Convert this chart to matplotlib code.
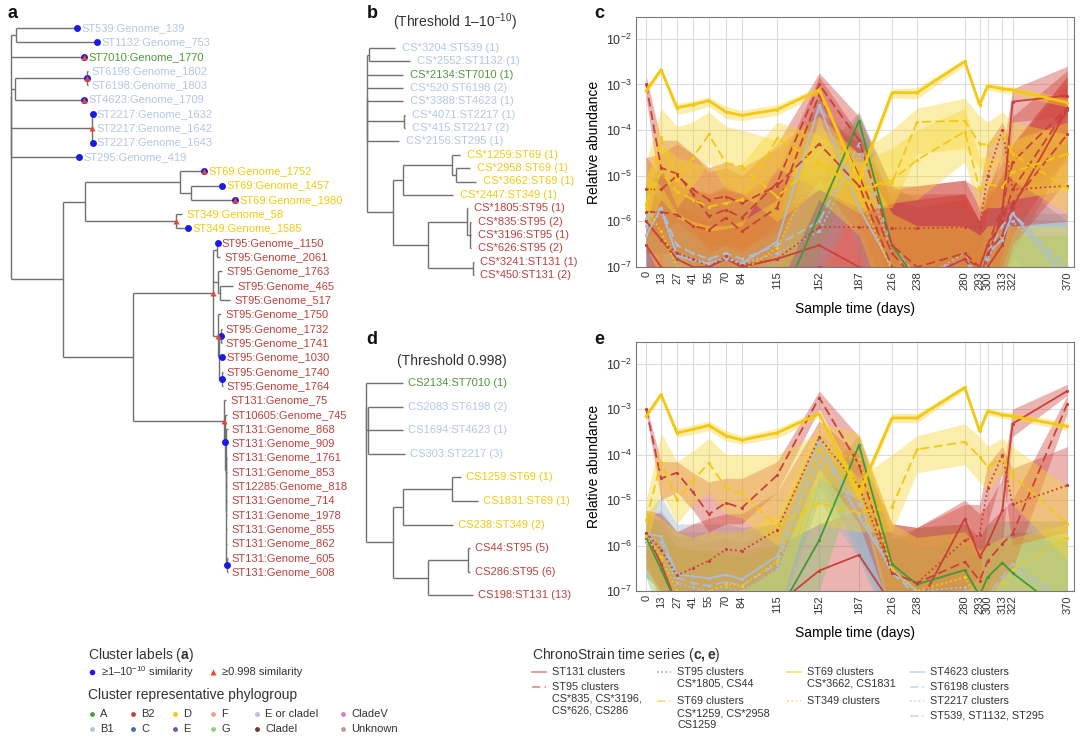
import matplotlib
matplotlib.use("Agg")
import matplotlib.pyplot as plt
from matplotlib.ticker import NullLocator
from matplotlib.transforms import ScaledTranslation

plt.rcParams['font.family'] = ['Liberation Sans', 'DejaVu Sans']
plt.rcParams['mathtext.fontset'] = 'custom'
plt.rcParams['mathtext.rm'] = 'Liberation Sans'
plt.rcParams['mathtext.bf'] = 'Liberation Sans:bold'
plt.rcParams['mathtext.it'] = 'Liberation Sans:italic'
plt.rcParams['text.color'] = '#333333'

# ------------------------------------------------------------------
# Datos
# ------------------------------------------------------------------
days = [0, 13, 27, 41, 55, 70, 84, 115, 152, 187, 216, 238, 280, 293, 300, 313, 322, 370]

phylogroup_of = {'ST539': 'B1', 'ST1132': 'B1', 'ST7010': 'A', 'ST6198': 'B1',
                 'ST4623': 'B1', 'ST2217': 'B1', 'ST295': 'B1', 'ST69': 'D',
                 'ST349': 'D', 'ST95': 'B2', 'ST131': 'B2', 'ST10605': 'B2',
                 'ST12285': 'B2'}
phylo_names = ['A', 'B2', 'D', 'F', 'E or cladeI', 'CladeV',
               'B1', 'C', 'E', 'G', 'CladeI', 'Unknown']
phylo_colors = {'A': '#4e9a3c', 'B2': '#c2403a', 'D': '#f2ca10', 'F': '#ef9f98',
                'E or cladeI': '#c6b8e2', 'CladeV': '#d77cc8', 'B1': '#b4c6e6',
                'C': '#3f72b4', 'E': '#7453b3', 'G': '#8fd07f', 'CladeI': '#6b3b2c',
                'Unknown': '#c09a98'}

# arbol a: nodo interno = [nombre, largo, hijos...], hoja = (etiqueta, largo)
tree_a = ['root', 0,
    ['lb', 0,
        ['n539', 5, ('ST539:Genome_139', 61), ('ST1132:Genome_753', 81)],
        ('ST7010:Genome_1770', 73),
        ['n6198_4623', 4,
            ['n6198', 72, ('ST6198:Genome_1802', 0.5), ('ST6198:Genome_1803', 0.5)],
            ('ST4623:Genome_1709', 69)],
        ['n2217', 81, ('ST2217:Genome_1632', 0.5), ('ST2217:Genome_1642', 0.5),
                      ('ST2217:Genome_1643', 0.5)],
        ('ST295:Genome_419', 68)],
    ['b', 52,
        ['c', 22,
            ['n69', 95, ('ST69:Genome_1752', 24),
                ['n69b', 11, ('ST69:Genome_1457', 31), ('ST69:Genome_1980', 44)]],
            ['n349', 91, ('ST349:Genome_58', 6), ('ST349:Genome_1585', 12)]],
        ['d', 70,
            ['n95', 80,
                ['n95x', 4, ('ST95:Genome_1150', 0.5), ('ST95:Genome_2061', 3)],
                ['n95c', 5, ('ST95:Genome_1763', 4),
                    ['n465', 2, ('ST95:Genome_465', 13), ('ST95:Genome_517', 10)]],
                ['n95b', 5, ('ST95:Genome_1750', 3),
                    ['n95d', 1,
                        ['n1732', 2, ('ST95:Genome_1732', 0.5), ('ST95:Genome_1741', 0.5)],
                        ('ST95:Genome_1030', 3),
                        ['n1740', 3, ('ST95:Genome_1740', 0.5), ('ST95:Genome_1764', 0.5)]]]],
            ['n131', 91, ('ST131:Genome_75', 2),
                ['n131a', 1, ('ST10605:Genome_745', 2),
                    ['n131b', 0.5, ('ST131:Genome_868', 2), ('ST131:Genome_909', 1.5),
                        ['n131c', 0.5, ('ST131:Genome_1761', 1), ('ST131:Genome_853', 1),
                            ('ST12285:Genome_818', 1), ('ST131:Genome_714', 1),
                            ('ST131:Genome_1978', 1), ('ST131:Genome_855', 1),
                            ('ST131:Genome_862', 1),
                            ['n605', 1, ('ST131:Genome_605', 0.5), ('ST131:Genome_608', 0.5)]]]]]]]]

blue_a = ['ST539:Genome_139', 'ST1132:Genome_753', 'ST7010:Genome_1770', 'n6198',
          'ST4623:Genome_1709', 'ST2217:Genome_1632', 'ST2217:Genome_1643',
          'ST295:Genome_419', 'ST69:Genome_1752', 'ST69:Genome_1457', 'ST69:Genome_1980',
          'ST349:Genome_1585', 'ST95:Genome_1150', 'n1732', 'ST95:Genome_1030',
          'n1740', 'n131a', 'n605']
red_a = ['ST7010:Genome_1770', 'n6198', 'ST4623:Genome_1709', 'n2217',
         'ST69:Genome_1752', 'ST69:Genome_1980', 'n349', 'n95', 'n95b', 'n131']

tree_b = ['root', 0,
    ['lb', 0,
        ['n1', 2, ('CS*3204:ST539 (1)', 26), ('CS*2552:ST1132 (1)', 41)],
        ('CS*2134:ST7010 (1)', 36),
        ('CS*520:ST6198 (2)', 36),
        ('CS*3388:ST4623 (1)', 36),
        ['n2217', 37, ('CS*4071:ST2217 (1)', 0.5), ('CS*415:ST2217 (2)', 0.5)],
        ('CS*2156:ST295 (1)', 32)],
    ['rest', 26,
        ['y', 10,
            ['n69', 49, ('CS*1259:ST69 (1)', 8),
                ['n69b', 4, ('CS*2958:ST69 (1)', 14), ('CS*3662:ST69 (1)', 20)]],
            ('CS*2447:ST349 (1)', 50)],
        ['r', 35,
            ['n95', 39, ('CS*1805:ST95 (1)', 0.5),
                ['n95b', 3, ('CS*835:ST95 (2)', 0.5), ('CS*3196:ST95 (1)', 0.5),
                            ('CS*626:ST95 (2)', 0.5)]],
            ['n131', 45, ('CS*3241:ST131 (1)', 0.5), ('CS*450:ST131 (2)', 0.5)]]]]

tree_d = ['root', 0,
    ['lb', 0,
        ('CS2134:ST7010 (1)', 37),
        ['n1', 2, ('CS2083:ST6198 (2)', 35), ('CS1694:ST4623 (1)', 35),
                  ('CS303:ST2217 (3)', 37)]],
    ['rest', 27,
        ['y', 10,
            ['n69', 49, ('CS1259:ST69 (1)', 9), ('CS1831:ST69 (1)', 26)],
            ('CS238:ST349 (2)', 50)],
        ['r', 35,
            ['n95', 40, ('CS44:ST95 (5)', 2), ('CS286:ST95 (6)', 2)],
            ('CS198:ST131 (13)', 45)]]]

# ---- series panel c (umbral 1-1e-10) ----
c_3662 = [7.3e-4, 2.1e-3, 3.1e-4, 3.6e-4, 4.4e-4, 2.5e-4, 2.1e-4, 2.8e-4, 7.6e-4, 8e-6, 6.6e-4, 6.6e-4, 3.2e-3, 3.6e-4, 9.3e-4, 8e-4, 7.6e-4, 4e-4]
c_3662_lo = [6e-4, 1.8e-3, 2.2e-4, 2.6e-4, 3.3e-4, 1.8e-4, 1.6e-4, 2.1e-4, 6e-4, 6e-6, 5e-4, 4.8e-4, 2.6e-3, 3e-4, 7.5e-4, 6.5e-4, 6e-4, 3.2e-4]
c_3662_hi = [9e-4, 2.4e-3, 3.8e-4, 4.4e-4, 5.3e-4, 3.3e-4, 2.7e-4, 3.6e-4, 9e-4, 1.1e-5, 8e-4, 8.5e-4, 3.6e-3, 4.3e-4, 1.1e-3, 9.5e-4, 9e-4, 5e-4]

c_1259 = [2.3e-6, 7e-5, 8e-6, 2.5e-5, 8e-5, 1.9e-5, 1.6e-5, 3.5e-6, 2e-5, 5e-6, 7e-6, 1.5e-4, 1.6e-4, 5e-5, 4.8e-5, 8e-5, 3e-5, 5.4e-6]
c_1259_lo = [8e-7, 1.5e-5, 2e-6, 6e-6, 2e-5, 5e-6, 4e-6, 1e-6, 5e-6, 2e-6, 2e-6, 3e-5, 4e-5, 1.5e-5, 1.2e-5, 2.5e-5, 8e-6, 1.5e-6]
c_1259_hi = [2e-5, 3e-4, 1.2e-4, 1.5e-4, 2.5e-4, 1.2e-4, 1e-4, 6e-5, 2e-4, 3e-5, 1e-4, 3e-4, 5e-4, 2e-4, 1.5e-4, 2.5e-4, 1.5e-4, 8e-5]

c_2958 = [2.5e-6, 1.2e-5, 4.5e-6, 3e-6, 2.1e-6, 2.5e-6, 3e-6, 6.6e-5, 1.9e-5, 5e-6, 8e-6, 2.2e-5, 9.3e-5, 5e-6, 6.5e-6, 5.7e-6, 1.2e-5, 3e-5]
c_2958_lo = [6e-7, 3e-6, 1.2e-6, 8e-7, 6e-7, 7e-7, 8e-7, 1.5e-5, 5e-6, 1.5e-6, 2.5e-6, 3e-6, 2e-5, 1.5e-6, 2e-6, 2e-6, 3e-6, 5e-6]
c_2958_hi = [1e-5, 5e-5, 2.5e-5, 2e-5, 1.5e-5, 1.5e-5, 1.8e-5, 1.5e-4, 8e-5, 2e-5, 4e-5, 1e-4, 3e-4, 2.5e-5, 2.5e-5, 2.5e-5, 6e-5, 1.5e-4]

c_2447 = [2e-6, 6e-7, 1e-7, 6e-8, 5e-8, 5e-8, 8e-8, 2.6e-7, 2e-5, 4e-6, 8e-8, 5e-8, 5e-8, 3e-8, 5e-8, 5e-8, 5e-8, 5e-8]
c_2447_lo = [3e-7, 5e-8, 5e-9, 3e-9, 3e-9, 3e-9, 5e-9, 3e-8, 3e-6, 5e-7, 5e-9, 3e-9, 3e-9, 2e-9, 3e-9, 3e-9, 3e-9, 3e-9]
c_2447_hi = [1e-5, 6e-6, 1.5e-6, 1e-6, 8e-7, 8e-7, 1e-6, 3e-6, 1.2e-4, 3e-5, 1.5e-6, 8e-7, 8e-7, 5e-7, 8e-7, 8e-7, 8e-7, 8e-7]

c_835 = [1e-3, 1.5e-5, 1.1e-5, 4e-6, 1.3e-6, 1.8e-6, 1.2e-6, 7e-6, 1e-3, 6e-5, 3e-7, 1e-7, 2e-7, 1e-7, 3e-7, 2e-6, 2e-5, 3e-4]
c_835_lo = [5e-4, 3e-6, 2e-6, 8e-7, 2e-7, 3e-7, 2e-7, 1e-6, 4e-4, 1e-5, 2e-8, 1e-8, 1e-8, 1e-8, 2e-8, 2e-7, 3e-6, 2e-5]
c_835_hi = [1.5e-3, 6e-5, 6e-5, 3e-5, 1.2e-5, 1.5e-5, 1e-5, 5e-5, 1.8e-3, 2e-4, 6e-6, 3e-6, 4e-6, 1e-6, 5e-6, 2e-5, 2e-4, 2e-3]

c_3196 = [5e-6, 5e-6, 1e-5, 5e-6, 3e-6, 3.5e-6, 2.5e-6, 6e-6, 5e-5, 6e-6, 1e-7, 5e-8, 1.5e-7, 5e-8, 2e-7, 5e-7, 2.5e-6, 8e-5]
c_3196_lo = [5e-7, 5e-7, 1e-6, 5e-7, 3e-7, 3e-7, 2.5e-7, 6e-7, 8e-6, 5e-7, 5e-9, 3e-9, 8e-9, 3e-9, 1e-8, 5e-8, 3e-7, 8e-6]
c_3196_hi = [2.5e-5, 3e-5, 5e-5, 3e-5, 1.5e-5, 2e-5, 1.5e-5, 4e-5, 2.5e-4, 5e-5, 3e-6, 3e-6, 4e-6, 1e-6, 4e-6, 1e-5, 5e-5, 1.5e-3]

c_626 = [1.6e-6, 1.6e-6, 1.4e-6, 8e-7, 6.5e-7, 1.2e-6, 6e-7, 2e-6, 6e-4, 1e-5, 2e-7, 5e-8, 1.5e-7, 1e-7, 3e-7, 1e-6, 5e-6, 3e-4]
c_626_lo = [2e-7, 2e-7, 2e-7, 1e-7, 8e-8, 1e-7, 6e-8, 2e-7, 2e-4, 1e-6, 1e-8, 3e-9, 1e-8, 5e-9, 2e-8, 1e-7, 5e-7, 3e-5]
c_626_hi = [8e-6, 1e-5, 8e-6, 5e-6, 4e-6, 6e-6, 4e-6, 1.2e-5, 1.5e-3, 8e-5, 3e-6, 2e-6, 3e-6, 1e-6, 3e-6, 8e-6, 5e-5, 1e-3]

c_1805 = [1e-6, 4e-7, 2e-7, 1.5e-7, 1e-7, 1.7e-7, 1.1e-7, 1.5e-7, 7.5e-7, 7.5e-7, 7e-7, 7e-7, 7.5e-7, 7.5e-7, 1e-5, 1e-4, 5e-6, 6e-6]
c_1805_lo = [1e-7, 3e-8, 1e-8, 1e-8, 5e-9, 1e-8, 5e-9, 1e-8, 1e-7, 1e-7, 8e-8, 8e-8, 1e-7, 1e-7, 2e-6, 3e-5, 8e-7, 1e-6]
c_1805_hi = [6e-6, 3e-6, 2e-6, 1.5e-6, 1e-6, 1.5e-6, 1e-6, 1.5e-6, 5e-6, 8e-6, 6e-6, 6e-6, 8e-6, 5e-6, 5e-5, 1.5e-4, 4e-5, 5e-5]

c_3241 = [1e-6, 4e-7, 1.5e-7, 1e-7, 1e-7, 1.5e-7, 1e-7, 1.5e-7, 3e-7, 1e-7, 5e-8, 5e-8, 1.5e-7, 5e-8, 1.5e-7, 1.5e-6, 4.2e-4, 5.7e-4]
c_3241_lo = [1e-7, 2e-8, 5e-9, 3e-9, 3e-9, 5e-9, 3e-9, 5e-9, 1e-8, 3e-9, 1e-9, 1e-9, 5e-9, 1e-9, 5e-9, 1e-7, 1.5e-4, 2e-4]
c_3241_hi = [2.5e-5, 1e-5, 6e-6, 5e-6, 4e-6, 5e-6, 4e-6, 6e-6, 1e-5, 1e-5, 5e-6, 6e-6, 8e-6, 2e-6, 5e-6, 3e-5, 8e-4, 2.5e-3]

c_450 = [3e-7, 1e-7, 5e-8, 5e-8, 5e-8, 5e-8, 5e-8, 5e-8, 1e-7, 8e-8, 3e-8, 3e-8, 5e-8, 3e-8, 1e-7, 3e-7, 2e-6, 2.8e-4]
c_450_lo = [2e-8, 5e-9, 2e-9, 2e-9, 2e-9, 2e-9, 2e-9, 2e-9, 5e-9, 3e-9, 1e-9, 1e-9, 2e-9, 1e-9, 5e-9, 2e-8, 2e-7, 3e-5]
c_450_hi = [5e-6, 3e-6, 2e-6, 2e-6, 2e-6, 2e-6, 2e-6, 3e-6, 5e-6, 6e-6, 4e-6, 4e-6, 4e-6, 1e-6, 3e-6, 1e-5, 5e-5, 1.5e-3]

c_4623 = [5e-7, 1.9e-6, 1.8e-7, 1.4e-7, 1.2e-7, 1.6e-7, 1.2e-7, 3.6e-7, 3.5e-4, 2e-6, 1e-7, 5e-8, 1.5e-7, 5e-8, 2e-7, 4e-7, 1.5e-6, 5e-8]
c_4623_lo = [5e-8, 3e-7, 1e-8, 1e-8, 1e-8, 1e-8, 1e-8, 3e-8, 5e-5, 2e-7, 5e-9, 3e-9, 1e-8, 3e-9, 1e-8, 3e-8, 2e-7, 3e-9]
c_4623_hi = [5e-6, 1.5e-5, 3e-6, 2.5e-6, 2e-6, 2.5e-6, 2e-6, 5e-6, 5e-4, 3e-5, 2e-6, 2e-6, 2e-6, 8e-7, 2e-6, 3e-6, 8e-6, 1e-6]

c_6198 = [1.2e-6, 2e-6, 3e-7, 2e-7, 1.5e-7, 2e-7, 1.5e-7, 3e-7, 1e-6, 5e-5, 3e-7, 6e-8, 1.5e-7, 5e-8, 2e-7, 8e-7, 1.5e-6, 1e-7]
c_6198_lo = [1e-7, 3e-7, 2e-8, 1e-8, 1e-8, 1e-8, 1e-8, 2e-8, 1e-7, 5e-6, 2e-8, 3e-9, 1e-8, 3e-9, 1e-8, 5e-8, 1e-7, 5e-9]
c_6198_hi = [8e-6, 1.5e-5, 4e-6, 3e-6, 3e-6, 3e-6, 3e-6, 6e-6, 3e-5, 2.5e-4, 5e-6, 3e-6, 2e-6, 1e-6, 1.5e-6, 3e-6, 1.5e-6, 1.5e-6]

c_2217 = [8e-7, 1.5e-6, 2e-7, 1.5e-7, 1.2e-7, 1.5e-7, 1.2e-7, 2e-7, 6e-7, 3e-5, 2e-7, 5e-8, 2e-7, 5e-8, 1.5e-7, 5e-7, 1e-6, 8e-8]
c_2217_lo = [8e-8, 2e-7, 1e-8, 1e-8, 8e-9, 1e-8, 8e-9, 1e-8, 5e-8, 3e-6, 1e-8, 3e-9, 1e-8, 3e-9, 1e-8, 3e-8, 8e-8, 5e-9]
c_2217_hi = [4e-6, 8e-6, 2e-6, 2e-6, 1.5e-6, 2e-6, 1.5e-6, 3e-6, 1e-5, 1.5e-4, 3e-6, 2e-6, 1.5e-6, 6e-7, 1e-6, 2e-6, 1.2e-6, 1e-6]

c_7010 = [1e-8, 1e-8, 1e-8, 1e-8, 1e-8, 1e-8, 1e-8, 1e-8, 1.5e-6, 1.6e-4, 3e-7, 5e-8, 3e-8, 3e-8, 3e-8, 3e-8, 3e-8, 3e-8]
c_7010_lo = [1e-9, 1e-9, 1e-9, 1e-9, 1e-9, 1e-9, 1e-9, 1e-9, 2e-7, 5e-5, 3e-8, 5e-9, 3e-9, 3e-9, 3e-9, 3e-9, 3e-9, 3e-9]
c_7010_hi = [1e-7, 1e-7, 1e-7, 1e-7, 1e-7, 1e-7, 1e-7, 1e-7, 6e-6, 2.5e-4, 2e-6, 5e-7, 5e-7, 5e-7, 5e-7, 5e-7, 5e-7, 5e-7]

# ---- series panel e (umbral 0.998) ----
e_1831 = [7e-4, 2.1e-3, 3e-4, 3.6e-4, 4.4e-4, 2.6e-4, 2.1e-4, 3e-4, 8e-4, 1.4e-5, 6.4e-4, 6.4e-4, 3e-3, 3.3e-4, 9e-4, 7.5e-4, 7e-4, 4.2e-4]
e_1831_lo = [6e-4, 1.8e-3, 2.4e-4, 2.8e-4, 3.4e-4, 2e-4, 1.7e-4, 2.3e-4, 6.5e-4, 1e-5, 5e-4, 5e-4, 2.6e-3, 2.8e-4, 7.5e-4, 6.2e-4, 5.8e-4, 3.4e-4]
e_1831_hi = [8.5e-4, 2.4e-3, 3.8e-4, 4.5e-4, 5.5e-4, 3.4e-4, 2.6e-4, 3.8e-4, 9.5e-4, 2e-5, 8e-4, 8e-4, 3.4e-3, 4e-4, 1.05e-3, 9e-4, 8.5e-4, 5.2e-4]

e_1259 = [3.6e-6, 6.9e-5, 1e-5, 2.7e-5, 6.5e-5, 1.9e-5, 1.4e-5, 2.7e-6, 8.5e-6, 5.3e-6, 7e-6, 1.3e-4, 1.9e-4, 9e-5, 5.4e-5, 8e-5, 3.5e-5, 3e-6]
e_1259_lo = [1e-6, 1.5e-5, 3e-6, 8e-6, 1.5e-5, 5e-6, 4e-6, 1e-6, 3e-6, 2e-6, 2e-6, 4e-5, 6e-5, 2.5e-5, 1.5e-5, 4e-5, 8e-6, 5e-7]
e_1259_hi = [1e-5, 3e-4, 7e-5, 1.2e-4, 2.3e-4, 1e-4, 1e-4, 1e-4, 3e-4, 3e-5, 1e-4, 2.6e-4, 4.8e-4, 2.5e-4, 1.5e-4, 2.3e-4, 1.5e-4, 2e-5]

e_238 = [1.6e-6, 5.6e-7, 1e-7, 8e-8, 1e-7, 1.4e-7, 1.3e-7, 4.5e-7, 1.3e-4, 8e-5, 3e-7, 1e-7, 2e-7, 5e-8, 8e-8, 1.5e-7, 3e-7, 1.5e-6]
e_238_lo = [3e-7, 5e-8, 5e-9, 5e-9, 5e-9, 8e-9, 8e-9, 3e-8, 3e-5, 1e-5, 2e-8, 5e-9, 1e-8, 3e-9, 5e-9, 1e-8, 2e-8, 1e-7]
e_238_hi = [6e-6, 4e-6, 2e-6, 1.5e-6, 2e-6, 2e-6, 2e-6, 5e-6, 5e-4, 3e-4, 3e-6, 1.5e-6, 2e-6, 8e-7, 1e-6, 1.5e-6, 1.5e-6, 3e-6]

e_286 = [1e-3, 3e-5, 4e-5, 1.5e-5, 4.9e-6, 8.7e-6, 6.7e-6, 3.5e-5, 1.8e-3, 6e-5, 2.5e-7, 1.5e-7, 4.4e-7, 1.7e-7, 4.5e-7, 1.1e-6, 1.8e-6, 1.3e-3]
e_286_lo = [8e-4, 1e-5, 1.5e-5, 6e-6, 2e-6, 3e-6, 3e-6, 1.5e-5, 1e-3, 2e-5, 3e-8, 2e-8, 5e-8, 2e-8, 6e-8, 2e-7, 3e-7, 8e-4]
e_286_hi = [1.2e-3, 7e-5, 7e-5, 4e-5, 2.5e-5, 3e-5, 3e-5, 7e-5, 2.5e-3, 2.5e-4, 3e-6, 2.5e-6, 3e-6, 1.5e-6, 3e-6, 6e-6, 1e-5, 2e-3]

e_44 = [1.9e-6, 8e-7, 2.2e-7, 3.2e-7, 4.6e-7, 8.2e-7, 7.7e-7, 2.2e-6, 2.4e-4, 2e-5, 2.5e-7, 1.5e-7, 1.3e-6, 1.7e-6, 1.8e-5, 9.6e-5, 8e-6, 2.1e-5]
e_44_lo = [3e-7, 1e-7, 3e-8, 4e-8, 6e-8, 1e-7, 1e-7, 3e-7, 5e-5, 3e-6, 3e-8, 2e-8, 1e-7, 2e-7, 3e-6, 4e-5, 1e-6, 2e-6]
e_44_hi = [6e-6, 5e-6, 2e-6, 3e-6, 4e-6, 5e-6, 5e-6, 1.5e-5, 5.5e-4, 1e-4, 3e-6, 2.5e-6, 8e-6, 8e-6, 6e-5, 1.5e-4, 5e-5, 1.5e-4]

e_198 = [1.9e-6, 4e-7, 5e-8, 3e-8, 3e-8, 3e-8, 3e-8, 5e-8, 2.8e-7, 6.2e-7, 5e-8, 4e-8, 3.9e-6, 5.6e-7, 1.1e-6, 6e-6, 4.8e-4, 2.5e-3]
e_198_lo = [5e-7, 5e-8, 2e-9, 1e-9, 1e-9, 1e-9, 1e-9, 2e-9, 1e-8, 3e-8, 2e-9, 1e-9, 5e-7, 5e-8, 1e-7, 1e-6, 2.5e-4, 2e-3]
e_198_hi = [6e-6, 3e-6, 1e-6, 8e-7, 8e-7, 8e-7, 8e-7, 1e-6, 3e-6, 6e-6, 1e-6, 2.5e-6, 1e-5, 5e-6, 8e-6, 3e-5, 1e-3, 3.5e-3]

e_1694 = [1.8e-6, 1.6e-6, 2.3e-7, 2.1e-7, 1.9e-7, 2.3e-7, 1.8e-7, 5.8e-7, 2e-4, 4.2e-6, 3e-7, 1e-7, 5e-8, 3e-8, 5e-8, 5e-8, 5e-8, 5e-8]
e_1694_lo = [3e-7, 2e-7, 2e-8, 2e-8, 2e-8, 2e-8, 2e-8, 5e-8, 5e-5, 5e-7, 2e-8, 5e-9, 2e-9, 1e-9, 2e-9, 2e-9, 2e-9, 2e-9]
e_1694_hi = [5e-6, 1.2e-5, 3e-6, 3e-6, 3e-6, 3e-6, 2.5e-6, 3e-6, 3e-4, 5e-5, 2e-6, 1e-6, 8e-7, 5e-7, 1e-6, 1e-6, 2e-6, 2e-6]

e_2083 = [1.5e-6, 1.2e-6, 2e-7, 1.5e-7, 1.3e-7, 1.6e-7, 1.3e-7, 4e-7, 1e-4, 8e-6, 2.5e-7, 8e-8, 1e-7, 5e-8, 8e-8, 2e-7, 4e-7, 6e-8]
e_2083_lo = [2e-7, 1e-7, 1e-8, 1e-8, 1e-8, 1e-8, 1e-8, 3e-8, 2e-5, 1e-6, 1e-8, 5e-9, 5e-9, 2e-9, 5e-9, 1e-8, 3e-8, 3e-9]
e_2083_hi = [4e-6, 6e-6, 2e-6, 2e-6, 2e-6, 2e-6, 2e-6, 3e-6, 2e-4, 3e-5, 1.5e-6, 1e-6, 1e-6, 5e-7, 1e-6, 1.5e-6, 2e-6, 1.5e-6]

e_303 = [1.2e-6, 8e-7, 1.5e-7, 1.2e-7, 1e-7, 1.2e-7, 1e-7, 3e-7, 6e-5, 5e-6, 2.5e-7, 1e-7, 1.2e-7, 5e-8, 8e-8, 1.5e-7, 3e-7, 5e-8]
e_303_lo = [2e-7, 1e-7, 1e-8, 1e-8, 8e-9, 1e-8, 8e-9, 2e-8, 1e-5, 5e-7, 1e-8, 5e-9, 5e-9, 2e-9, 5e-9, 1e-8, 2e-8, 2e-9]
e_303_hi = [3e-6, 4e-6, 1.5e-6, 1.5e-6, 1.2e-6, 1.5e-6, 1.2e-6, 2e-6, 1.5e-4, 2e-5, 1.5e-6, 1e-6, 1e-6, 5e-7, 1e-6, 1.2e-6, 1.5e-6, 1.2e-6]

e_2134 = [1.5e-6, 3e-7, 5e-8, 3e-8, 3e-8, 3e-8, 3e-8, 3e-8, 1.3e-6, 1.6e-4, 3.9e-7, 1.4e-7, 2.9e-7, 8e-8, 2e-7, 4.2e-7, 2.5e-7, 3e-8]
e_2134_lo = [2e-7, 2e-8, 2e-9, 1e-9, 1e-9, 1e-9, 1e-9, 1e-9, 1e-7, 5e-5, 3e-8, 1e-8, 3e-8, 5e-9, 2e-8, 5e-8, 2e-8, 1e-9]
e_2134_hi = [5e-6, 2e-6, 1e-6, 8e-7, 8e-7, 6e-7, 6e-7, 1e-6, 3e-5, 2.7e-4, 1.5e-6, 2.5e-6, 3e-6, 1e-6, 3e-6, 3.5e-6, 3.5e-6, 3.5e-6]

# ------------------------------------------------------------------
# Estilos
# ------------------------------------------------------------------
RED, YEL, BLU, GRN = '#c8413a', '#f2c812', '#a9bedb', '#3f9a38'
RED_B, YEL_B, BLU_B, GRN_B = '#d0443c', '#f7d532', '#97b2c8', '#7fc46d'
SOLID, DASH, DOT, DASHDOT = '-', (0, (5, 2.5)), (0, (1, 1.6)), (0, (5, 2, 1, 2))
BAND_ALPHA = 0.4

panel_c = [
    (c_3241, c_3241_lo, c_3241_hi, RED, RED_B, SOLID),
    (c_450, c_450_lo, c_450_hi, RED, RED_B, SOLID),
    (c_4623, c_4623_lo, c_4623_hi, BLU, BLU_B, SOLID),
    (c_6198, c_6198_lo, c_6198_hi, BLU, BLU_B, DASH),
    (c_2217, c_2217_lo, c_2217_hi, BLU, BLU_B, DOT),
    (c_7010, c_7010_lo, c_7010_hi, GRN, GRN_B, SOLID),
    (c_1805, c_1805_lo, c_1805_hi, RED, RED_B, DOT),
    (c_626, c_626_lo, c_626_hi, RED, RED_B, DASH),
    (c_3196, c_3196_lo, c_3196_hi, RED, RED_B, DASH),
    (c_835, c_835_lo, c_835_hi, RED, RED_B, DASH),
    (c_2447, c_2447_lo, c_2447_hi, YEL, YEL_B, DOT),
    (c_2958, c_2958_lo, c_2958_hi, YEL, YEL_B, DASH),
    (c_1259, c_1259_lo, c_1259_hi, YEL, YEL_B, DASH),
    (c_3662, c_3662_lo, c_3662_hi, YEL, YEL_B, SOLID),
]
panel_e = [
    (e_198, e_198_lo, e_198_hi, RED, RED_B, SOLID),
    (e_1694, e_1694_lo, e_1694_hi, BLU, BLU_B, SOLID),
    (e_2083, e_2083_lo, e_2083_hi, BLU, BLU_B, DASH),
    (e_303, e_303_lo, e_303_hi, BLU, BLU_B, DOT),
    (e_2134, e_2134_lo, e_2134_hi, GRN, GRN_B, SOLID),
    (e_44, e_44_lo, e_44_hi, RED, RED_B, DOT),
    (e_286, e_286_lo, e_286_hi, RED, RED_B, DASH),
    (e_238, e_238_lo, e_238_hi, YEL, YEL_B, DOT),
    (e_1259, e_1259_lo, e_1259_hi, YEL, YEL_B, DASH),
    (e_1831, e_1831_lo, e_1831_hi, YEL, YEL_B, SOLID),
]

legend_cols = [
    [('ST131 clusters', RED, SOLID), ('ST95 clusters\nCS*835, CS*3196,\nCS*626, CS286', RED, DASH)],
    [('ST95 clusters\nCS*1805, CS44', RED, DOT), ('ST69 clusters\nCS*1259, CS*2958\nCS1259', YEL, DASH)],
    [('ST69 clusters\nCS*3662, CS1831', YEL, SOLID), ('ST349 clusters', YEL, DOT)],
    [('ST4623 clusters', BLU, SOLID), ('ST6198 clusters', BLU, DASH),
     ('ST2217 clusters', BLU, DOT), ('ST539, ST1132, ST295', BLU, DASHDOT)],
]


def st_of(label):
    if label.startswith('CS'):
        return label.split(':')[1].split(' ')[0]
    return label.split(':')[0]


# ------------------------------------------------------------------
# Arboles
# ------------------------------------------------------------------
def layout(node, x_parent, y0, dy, pos, segs, leaves):
    if isinstance(node, tuple):
        name, L = node
        x = x_parent + L
        y = y0 + dy * len(leaves)
        leaves.append(name)
        pos[name] = (x, y)
        return x, y
    name, L = node[0], node[1]
    x = x_parent + L
    kids = [layout(ch, x, y0, dy, pos, segs, leaves) for ch in node[2:]]
    y = (kids[0][1] + kids[-1][1]) / 2
    segs.append(([x, x], [kids[0][1], kids[-1][1]]))
    for kx, ky in kids:
        segs.append(([x, kx], [ky, ky]))
    pos[name] = (x, y)
    return x, y


def draw_tree(ax, tree, x_root, y0, dy, gap, fs, blue=(), red=()):
    pos, segs, leaves = {}, [], []
    layout(tree, x_root, y0, dy, pos, segs, leaves)
    for xs, ys in segs:
        ax.plot(xs, ys, color='#707070', lw=1.0, solid_capstyle='butt')
    for name in blue:
        ax.plot(*pos[name], 'o', color='#1a1ae6', ms=5, mec='none', zorder=5)
    for name in red:
        ax.plot(*pos[name], '^', color='#e8472c', ms=5, mec='none', zorder=6)
    for name in leaves:
        x, y = pos[name]
        col = phylo_colors[phylogroup_of[st_of(name)]]
        ax.text(x + gap, y, name, color=col, fontsize=fs, va='center', ha='left')


fig = plt.figure(figsize=(10.8, 7.42), dpi=100)
ov = fig.add_axes([0, 0, 1, 1])
ov.set_xlim(0, 1080)
ov.set_ylim(742, 0)
ov.axis('off')

draw_tree(ov, tree_a, 11, 28, 14.32, 4, 8, blue_a, red_a)
draw_tree(ov, tree_b, 367, 48, 13.35, 7, 8)
draw_tree(ov, tree_d, 366, 383, 23.6, 5, 8)

ov.text(455, 22, '(Threshold 1–10$^{-10}$)', fontsize=10, ha='center', va='center')
ov.text(452, 361, '(Threshold 0.998)', fontsize=10, ha='center', va='center')

for lab, x, y in [('a', 13, 14), ('b', 372, 13), ('c', 599, 14), ('d', 372, 339), ('e', 599, 339)]:
    ov.text(x, y, lab, fontsize=13, fontweight='bold', ha='center', va='center', color='#111111')

# ------------------------------------------------------------------
# Series temporales
# ------------------------------------------------------------------
def draw_panel(rect, series):
    ax = fig.add_axes(rect)
    for med, lo, hi, col, band, ls in series:
        ax.fill_between(days, lo, hi, color=band, alpha=BAND_ALPHA, lw=0)
    for med, lo, hi, col, band, ls in series:
        lw = 2.0 if (col == YEL and ls == SOLID) else 1.3
        ax.plot(days, med, color=col, ls=ls, lw=lw, marker='o', ms=2.3, mec='none')
    ax.set_yscale('log')
    ax.set_ylim(1e-7, 3e-2)
    ax.set_xlim(-9, 376)
    ax.set_xticks(days)
    ax.set_xticklabels([str(d) for d in days], rotation=90, fontsize=8)
    # 293 y 300 casi se pisan: separarlos un poco
    for lab in ax.get_xticklabels():
        if lab.get_text() == '293':
            lab.set_transform(lab.get_transform() + ScaledTranslation(-3 / 100, 0, fig.dpi_scale_trans))
        elif lab.get_text() == '300':
            lab.set_transform(lab.get_transform() + ScaledTranslation(3 / 100, 0, fig.dpi_scale_trans))
    ax.set_yticks([1e-7, 1e-6, 1e-5, 1e-4, 1e-3, 1e-2])
    ax.set_yticklabels(['$10^{-%d}$' % k for k in range(7, 1, -1)], fontsize=9)
    ax.yaxis.set_minor_locator(NullLocator())
    ax.grid(True, color='#dcdcdc', lw=0.8)
    ax.set_axisbelow(True)
    ax.tick_params(length=0, pad=3, colors='#333333')
    for sp in ax.spines.values():
        sp.set_color('#777777')
    ax.set_ylabel('Relative abundance', fontsize=10, labelpad=4)
    ax.set_xlabel('Sample time (days)', fontsize=10, labelpad=9)
    return ax


draw_panel([636 / 1080, 1 - 267 / 742, 438 / 1080, 250 / 742], panel_c)
draw_panel([636 / 1080, 1 - 591 / 742, 438 / 1080, 249 / 742], panel_e)

# ------------------------------------------------------------------
# Leyendas
# ------------------------------------------------------------------
ov.text(88, 655, r'Cluster labels ($\mathbf{a}$)', fontsize=10, va='center')
ov.plot(92, 672, 'o', color='#1a1ae6', ms=4, mec='none')
ov.text(101, 672, '≥1–10$^{-10}$ similarity', fontsize=8, va='center')
ov.plot(213, 672, '^', color='#e8472c', ms=4, mec='none')
ov.text(222, 672, '≥0.998 similarity', fontsize=8, va='center')

ov.text(88, 695, 'Cluster representative phylogroup', fontsize=10, va='center')
col_x = [92, 133, 175, 213, 257, 343]
for i, name in enumerate(phylo_names):
    x = col_x[i % 6]
    y = 714 if i < 6 else 729
    ov.plot(x, y, 'o', color=phylo_colors[name], ms=3.5, mec='none')
    ov.text(x + 8, y, name, fontsize=8, va='center')

ov.text(532, 655, r'ChronoStrain time series ($\mathbf{c,e}$)', fontsize=10, va='center')
leg_x = [532, 657, 787, 910]
for cx, entries in zip(leg_x, legend_cols):
    y = 672
    for text, col, ls in entries:
        ov.plot([cx, cx + 14], [y, y], color=col, ls=ls, lw=1.2, alpha=0.6)
        ov.text(cx + 20, y - 5, text, fontsize=7.8, va='top', linespacing=1.25)
        y += 14.5 * (text.count('\n') + 1)

fig.savefig('out.png', dpi=100)
